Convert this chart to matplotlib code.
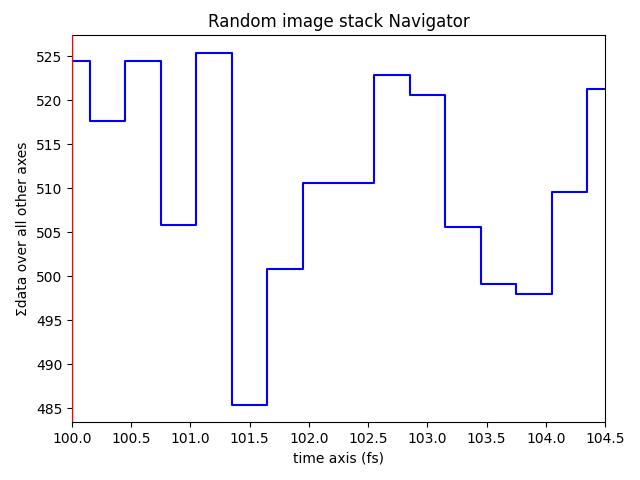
import numpy as np
import matplotlib
matplotlib.use("Agg")
import matplotlib.pyplot as plt

time_fs = [100.0, 100.3, 100.6, 100.9, 101.2, 101.5, 101.8, 102.1,
           102.4, 102.7, 103.0, 103.3, 103.6, 103.9, 104.2, 104.5]
sum_data = [524.4, 517.6, 524.4, 505.8, 525.4, 485.4, 500.8, 510.6,
            510.6, 522.9, 520.6, 505.6, 499.1, 498.0, 509.6, 521.3]
cursor_x = 100.0

fig, ax = plt.subplots(figsize=(6.4, 4.8), dpi=100)
ax.plot(time_fs, sum_data, drawstyle="steps-mid", color="blue", lw=1.5)
ax.set_xlim(100.0, 104.5)
ax.axvline(cursor_x, color="red", lw=1.0, zorder=3)
ax.set_title("Random image stack Navigator")
ax.set_xlabel("time axis (fs)")
ax.set_ylabel("Σdata over all other axes")
fig.subplots_adjust(left=0.1125, right=0.9453, top=0.9271, bottom=0.1198)
fig.savefig("out.png")
